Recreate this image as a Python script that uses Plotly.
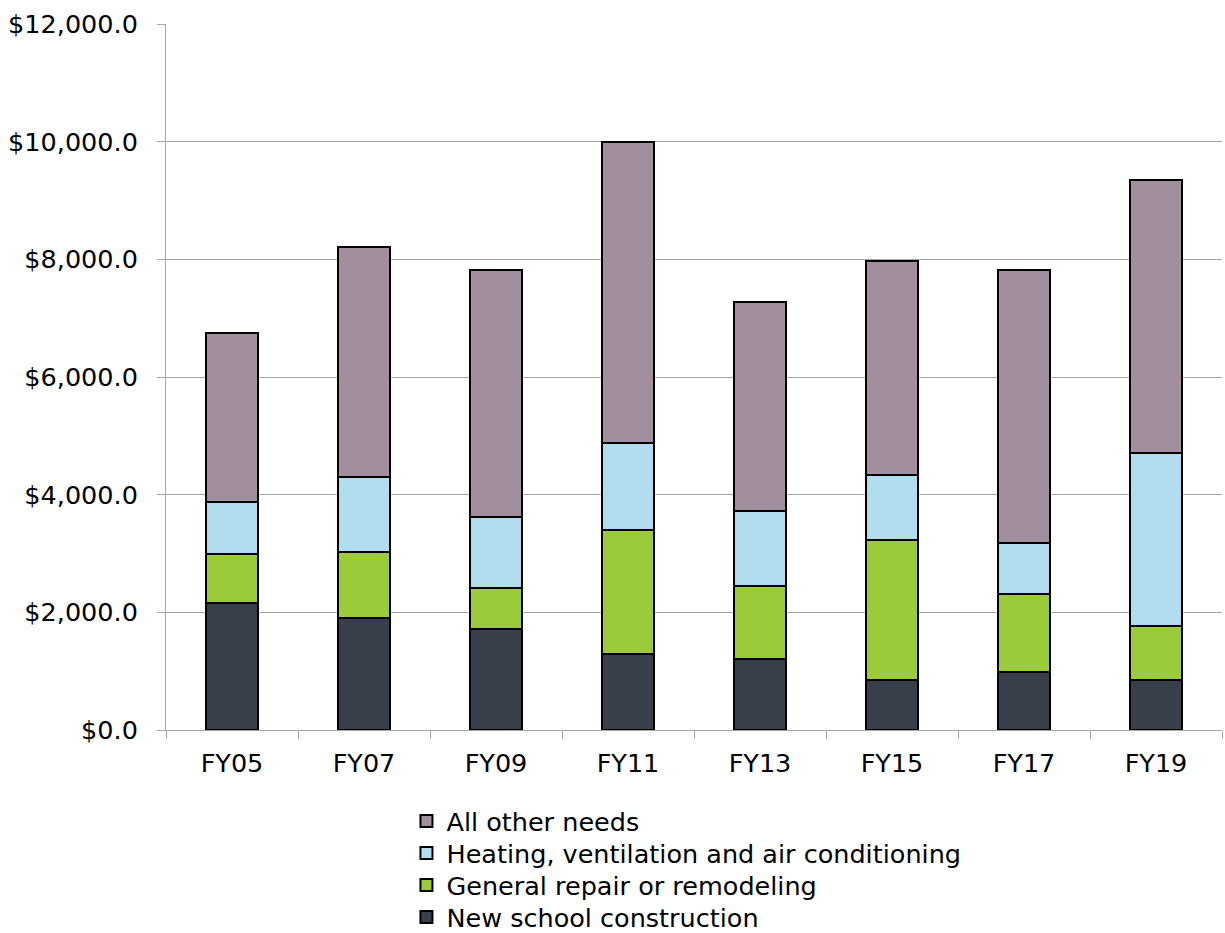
import plotly.graph_objects as go

# Fiscal years on the category axis
years = ["FY05", "FY07", "FY09", "FY11", "FY13", "FY15", "FY17", "FY19"]

# Spending by category (stacked from the bottom up)
new_construction = [2160, 1900, 1722, 1285, 1200, 848, 990, 848]
general_repair = [825, 1130, 688, 2120, 1245, 2389, 1315, 919]
hvac = [890, 1270, 1208, 1473, 1277, 1093, 870, 2945]
other_needs = [2869, 3905, 4200, 5116, 3556, 3647, 4643, 4640]

series = [
    ("New school construction", new_construction, "#383F4A"),
    ("General repair or remodeling", general_repair, "#9BCB3B"),
    ("Heating, ventilation and air conditioning", hvac, "#B1DDEE"),
    ("All other needs", other_needs, "#A18F9E"),
]

FONT = "DejaVu Sans"
FSIZE = 25.5
GRID = "#A6A6A6"

# One single-entry legend per series, stacked top-down (last series on top)
legend_ids = ["legend4", "legend3", "legend2", "legend"]
legend_tops = [0.0418, 0.0761, 0.1104, 0.1447]

fig = go.Figure()
for (name, values, color), lid in zip(series, legend_ids):
    fig.add_trace(go.Bar(
        x=years,
        y=values,
        name=name,
        width=0.4,
        legend=lid,
        marker=dict(color=color, line=dict(color="#000000", width=2)),
    ))

legend_style = dict(
    orientation="v",
    xref="container",
    yref="container",
    x=0.3318,
    xanchor="left",
    yanchor="top",
    font=dict(family=FONT, size=FSIZE, color="#000000"),
    bgcolor="rgba(0,0,0,0)",
)
legends = {lid: dict(legend_style, y=top) for lid, top in zip(legend_ids, legend_tops)}

fig.update_layout(
    barmode="stack",
    width=1225,
    height=933,
    paper_bgcolor="white",
    plot_bgcolor="white",
    margin=dict(l=166, r=3, t=24, b=203, autoexpand=False),
    font=dict(family=FONT, size=FSIZE, color="#000000"),
    showlegend=True,
    **legends,
)

fig.update_xaxes(
    showline=True,
    linecolor=GRID,
    linewidth=1,
    ticks="outside",
    tickson="boundaries",
    ticklen=8,
    tickcolor=GRID,
    showgrid=False,
    ticklabelstandoff=10,
    tickfont=dict(family=FONT, size=FSIZE),
)

fig.update_yaxes(
    range=[0, 12000],
    dtick=2000,
    tickprefix="$",
    tickformat=",.1f",
    showline=True,
    linecolor=GRID,
    linewidth=1,
    ticks="outside",
    ticklen=8,
    tickcolor=GRID,
    showgrid=True,
    gridcolor=GRID,
    gridwidth=1,
    zeroline=False,
    ticklabelstandoff=14,
    tickfont=dict(family=FONT, size=FSIZE),
)

fig.write_html("out.html")
